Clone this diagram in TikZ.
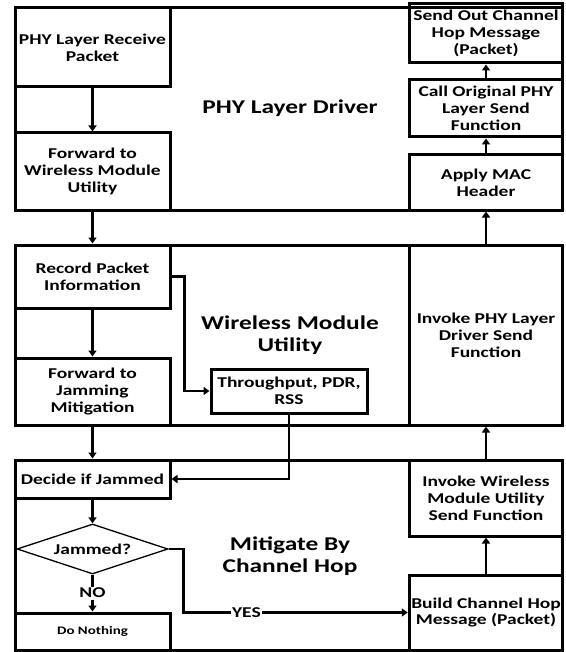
\documentclass[tikz,border=0pt]{standalone}
\usepackage{fontspec}
\setmainfont{Carlito}[FakeStretch=1.3]
\usetikzlibrary{arrows.meta,shapes.geometric}
\newcommand\boxfont{\fontsize{15}{17}\selectfont\bfseries}
\newcommand\titlefont{\fontsize{19.5}{22.5}\selectfont\bfseries}
\newcommand\smallboxfont{\fontsize{11.5}{13}\selectfont\bfseries}
\begin{document}
\begin{tikzpicture}[x=1pt,y=-1pt,
  frame/.style={draw, line width=3pt},
  box/.style={draw, line width=3pt, inner sep=2pt, align=center, font=\boxfont},
  leftbox/.style={box, minimum width=155},
  rightbox/.style={box, minimum width=153},
  title/.style={align=center, font=\titlefont},
  decision/.style={diamond, draw, line width=1.3pt, aspect=3, inner sep=0pt,
    minimum width=151, minimum height=50, font=\boxfont},
  arr/.style={line width=2.6pt, -{Triangle[length=6pt,width=8pt]}},
  tag/.style={fill=white, inner sep=1.5pt, font=\boxfont}]
\useasboundingbox (0,0) rectangle (565,652);

% the three layers
\draw[frame] (15,8) rectangle (562,210);
\draw[frame] (15,245) rectangle (562,425);
\draw[frame] (15,460) rectangle (562,650);

% PHY layer driver
\node[leftbox, minimum height=79] (recv) at (92.5,47.5) {PHY Layer Receive\\Packet};
\node[leftbox, minimum height=77] (fwdw) at (92.5,171.5) {Forward to\\Wireless Module\\Utility};
\node[rightbox, minimum height=59] (sendout) at (486,33.5) {Send Out Channel\\Hop Message\\(Packet)};
\node[rightbox, minimum height=57] (callphy) at (486,108.5) {Call Original PHY\\Layer Send\\Function};
\node[rightbox, minimum height=55] (mac) at (486,182.5) {Apply MAC\\Header};
\node[title] (phylabel) at (290,108) {PHY Layer Driver};

% wireless module utility
\node[leftbox, minimum height=63] (record) at (92.5,276.5) {Record Packet\\Information};
\node[leftbox, minimum height=67] (fwdj) at (92.5,391.5) {Forward to\\Jamming\\Mitigation};
\node[box, minimum width=156, minimum height=44] (metrics) at (289,391) {Throughput, PDR,\\RSS};
\node[rightbox, minimum height=180] (invphy) at (486,335) {Invoke PHY Layer\\Driver Send\\Function};
\node[title] (wmulabel) at (290,335) {Wireless Module\\Utility};

% jamming mitigation
\node[leftbox, minimum height=38] (decide) at (92.5,479) {Decide if Jammed};
\node[decision] (jam) at (92.5,549) {Jammed?};
\node[leftbox, minimum height=37, font=\smallboxfont] (nothing) at (92.5,631.5) {Do Nothing};
\node[rightbox, minimum height=76] (invwmu) at (486,498) {Invoke Wireless\\Module Utility\\Send Function};
\node[rightbox, minimum height=75] (build) at (486,612.5) {Build Channel Hop\\Message (Packet)};
\node[title] (mitlabel) at (290,556) {Mitigate By\\Channel Hop};

% receive path
\draw[arr] (recv) -- (fwdw);
\draw[arr] (fwdw) -- (record);
\draw[arr] (record) -- (fwdj);
\draw[arr] (record.east) -- ++(13,0) |- (metrics.west);
\draw[arr] (fwdj) -- (decide);
\draw[arr] (metrics.south) |- (decide.east);
\draw[arr] (decide) -- (jam);
\draw[arr] (jam) -- node[tag] {NO} (nothing);
\draw[arr] (jam.east) -- ++(15,0) |- node[tag, pos=0.64] {YES} (build.west);

% send path
\draw[arr] (build) -- (invwmu);
\draw[arr] (invwmu) -- (invphy);
\draw[arr] (invphy) -- (mac);
\draw[arr] (mac) -- (callphy);
\draw[arr] (callphy) -- (sendout);
\end{tikzpicture}
\end{document}
